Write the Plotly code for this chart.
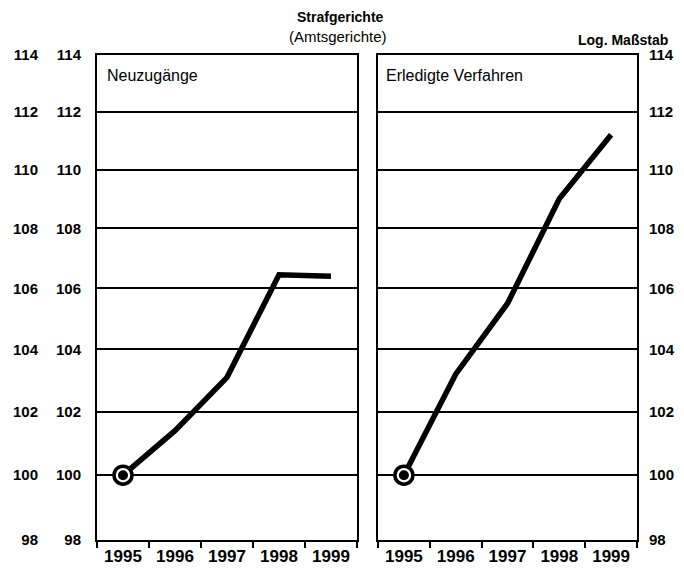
import math
import plotly.graph_objects as go

years = ["1995", "1996", "1997", "1998", "1999"]
neuzugaenge = [100.0, 101.4, 103.1, 106.45, 106.4]
erledigte = [100.0, 103.2, 105.5, 109.0, 111.2]
y_ticks = [98, 100, 102, 104, 106, 108, 110, 112, 114]
panel_titles = ["Neuzugänge", "Erledigte Verfahren"]
title = "Strafgerichte"
subtitle = "(Amtsgerichte)"
scale_note = "Log. Maßstab"

# the page body adds an 8px offset; the figure is sized to fit the window
OFF = 8
W, H = 684 - OFF, 580 - OFF
FONT = "Liberation Sans, Arial, sans-serif"


def fx(px):
    return (px - OFF) / W


def fy(py):
    return 1 - (py - OFF) / H


fig = go.Figure()

for xa, ya, vals in [("x", "y", neuzugaenge), ("x2", "y2", erledigte)]:
    fig.add_trace(go.Scatter(x=years, y=vals, xaxis=xa, yaxis=ya, mode="lines",
                             line=dict(color="black", width=5.5), hoverinfo="skip"))
    fig.add_trace(go.Scatter(x=years[:1], y=vals[:1], xaxis=xa, yaxis=ya, mode="markers",
                             marker=dict(color="white", size=18, line=dict(color="black", width=3.5)),
                             hoverinfo="skip"))
    fig.add_trace(go.Scatter(x=years[:1], y=vals[:1], xaxis=xa, yaxis=ya, mode="markers",
                             marker=dict(color="black", size=10, line=dict(width=0)),
                             hoverinfo="skip"))

# invisible trace for the outer label column
fig.add_trace(go.Scatter(x=years[:1], y=[100], xaxis="x", yaxis="y3", mode="markers",
                         marker=dict(opacity=0), hoverinfo="skip"))

yr = [math.log10(98), math.log10(114)]
ydom = [fy(540), fy(55)]
tickfont = dict(family=FONT, size=15, color="black", weight="bold")

common_y = dict(type="log", range=yr, domain=ydom, tickvals=y_ticks,
                ticktext=[str(v) for v in y_ticks], showgrid=True, gridcolor="black",
                gridwidth=2, showline=True, linecolor="black", linewidth=2, mirror=True,
                ticks="", tickfont=tickfont, zeroline=False, fixedrange=True,
                automargin=False)
common_x = dict(type="category", range=[-0.5, 4.5], showgrid=False, showline=True,
                linecolor="black", linewidth=2, mirror=True, ticks="outside",
                tickson="boundaries", ticklen=6, tickwidth=2, tickcolor="black",
                tickfont=dict(family=FONT, size=17, color="black", weight="bold"),
                fixedrange=True, automargin=False)

fig.update_layout(
    width=W, height=H,
    margin=dict(l=0, r=0, t=0, b=0, autoexpand=False),
    paper_bgcolor="white", plot_bgcolor="white",
    showlegend=False,
    xaxis=dict(domain=[fx(97), fx(357)], anchor="y", **common_x),
    xaxis2=dict(domain=[fx(378), fx(637)], anchor="y2", **common_x),
    yaxis=dict(anchor="x", side="left", ticklabelstandoff=11, **common_y),
    yaxis2=dict(anchor="x2", side="right", ticklabelstandoff=7, **common_y),
    yaxis3=dict(type="log", range=yr, tickvals=y_ticks, ticktext=[str(v) for v in y_ticks],
                overlaying="y", anchor="free", position=fx(40), side="left",
                showgrid=False, showline=False, ticks="", tickfont=tickfont,
                zeroline=False, fixedrange=True, ticklabelstandoff=2, automargin=False),
)

ann = [
    dict(text="<b>" + title + "</b>", x=fx(340), y=fy(17), size=14),
    dict(text=subtitle, x=fx(338), y=fy(36), size=15),
    dict(text="<b>" + scale_note + "</b>", x=fx(623), y=fy(40), size=14),
]
for a in ann:
    fig.add_annotation(text=a["text"], x=a["x"], y=a["y"], xref="paper", yref="paper",
                       xanchor="center", yanchor="middle", showarrow=False,
                       font=dict(family=FONT, size=a["size"], color="black"))

fig.add_annotation(text=panel_titles[0], x=fx(105), y=fy(76), xref="paper", yref="paper",
                   xanchor="left", yanchor="middle", showarrow=False,
                   font=dict(family=FONT, size=16, color="black"))
fig.add_annotation(text=panel_titles[1], x=fx(384), y=fy(76), xref="paper", yref="paper",
                   xanchor="left", yanchor="middle", showarrow=False,
                   font=dict(family=FONT, size=16, color="black"))

fig.write_html("out.html")
